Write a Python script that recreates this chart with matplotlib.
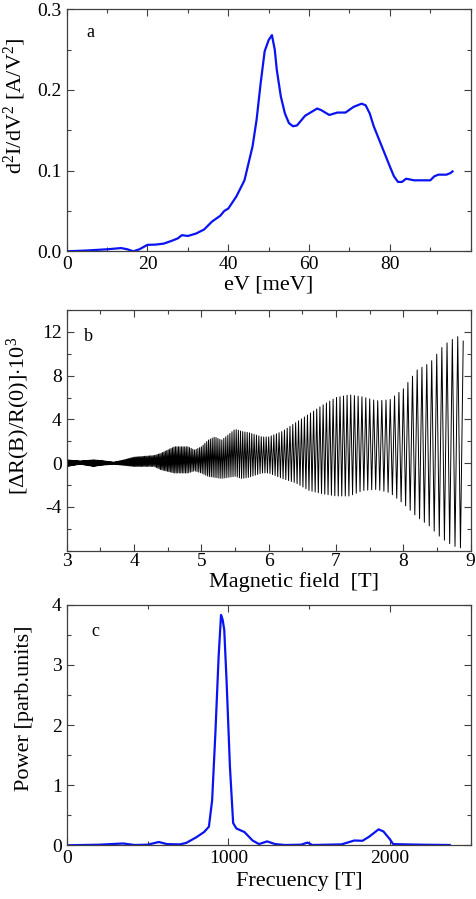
import numpy as np
import matplotlib
matplotlib.use("Agg")
import matplotlib.pyplot as plt
from matplotlib.ticker import MultipleLocator, FixedLocator, FormatStrFormatter

plt.rcParams['font.family'] = ['Liberation Serif', 'DejaVu Serif']
plt.rcParams['mathtext.fontset'] = 'custom'
plt.rcParams['mathtext.rm'] = 'Liberation Serif'
plt.rcParams['mathtext.it'] = 'Liberation Serif:italic'
plt.rcParams['axes.unicode_minus'] = False

# ---- panel a: d2I/dV2 vs eV ----
ev_mev = [0, 5, 10, 13.5, 15, 16.5, 18, 20, 22, 24, 26, 27.5, 28.5, 30, 32, 34, 36, 38, 39,
          40, 42, 44, 46, 47, 48, 49, 50, 50.8, 51.5, 52, 53, 54, 55, 56, 57, 58, 59, 60,
          62, 63, 65, 67, 69, 71, 73, 74, 75, 76, 78, 80, 81, 82, 83, 84, 85, 86, 88, 90,
          91, 92, 94, 95, 95.5]
d2i = [0.0, 0.001, 0.0025, 0.004, 0.0025, 0.0, 0.0025, 0.008, 0.0083, 0.0095, 0.013, 0.016,
       0.020, 0.019, 0.022, 0.027, 0.037, 0.044, 0.050, 0.053, 0.068, 0.088, 0.13, 0.163,
       0.208, 0.248, 0.262, 0.268, 0.25, 0.225, 0.192, 0.171, 0.159, 0.155, 0.156, 0.162,
       0.168, 0.171, 0.177, 0.175, 0.169, 0.172, 0.172, 0.179, 0.183, 0.181, 0.171, 0.155,
       0.13, 0.105, 0.093, 0.086, 0.086, 0.090, 0.089, 0.088, 0.088, 0.088, 0.093, 0.095,
       0.095, 0.097, 0.099]

# ---- panel b: oscillation envelope vs magnetic field ----
field_T = [3.0, 3.2, 3.4, 3.5, 3.7, 3.85, 4.0, 4.3, 4.4, 4.6, 4.8, 4.9, 5.0, 5.1, 5.2, 5.3,
           5.5, 5.6, 5.7, 5.9, 6.0, 6.2, 6.4, 6.6, 6.8, 7.0, 7.2, 7.4, 7.6, 7.8, 8.0, 8.2,
           8.4, 8.5, 8.6, 8.7, 8.8, 8.92]
upper_env = [0.3, 0.2, 0.3, 0.25, 0.1, 0.3, 0.55, 0.7, 0.9, 1.5, 1.5, 1.2, 1.5, 2.1, 2.4, 2.1,
             3.1, 2.9, 2.8, 2.4, 2.4, 2.9, 3.7, 4.5, 5.3, 6.0, 6.25, 6.05, 5.7, 5.8, 6.8, 8.5,
             9.2, 10.0, 10.8, 11.2, 11.6, 11.0]
lower_env = [-0.3, -0.1, -0.3, -0.2, -0.1, -0.2, -0.3, -0.3, -0.6, -0.9, -0.9, -0.7, -0.9,
             -1.2, -1.3, -1.4, -1.2, -1.4, -1.3, -0.9, -0.9, -1.4, -1.8, -2.5, -2.8, -3.0,
             -3.0, -2.5, -2.4, -2.7, -3.7, -4.9, -5.8, -6.5, -7.0, -7.4, -7.7, -7.8]
osc_freq_T = 960  # oscillation frequency

# ---- panel c: power spectrum ----
freq_T = [0, 200, 350, 420, 500, 570, 620, 700, 740, 800, 850, 880, 900, 920, 940, 955, 965,
          975, 990, 1010, 1030, 1050, 1100, 1150, 1190, 1240, 1290, 1350, 1450, 1490, 1520,
          1700, 1780, 1830, 1870, 1930, 1960, 2000, 2020, 2100, 2200, 2370]
power = [0.0, 0.01, 0.03, 0.005, 0.01, 0.055, 0.02, 0.015, 0.04, 0.13, 0.22, 0.31, 0.75,
         1.86, 3.13, 3.83, 3.75, 3.58, 2.69, 1.31, 0.37, 0.28, 0.22, 0.08, 0.02, 0.065, 0.02,
         0.005, 0.01, 0.045, 0.005, 0.015, 0.08, 0.075, 0.14, 0.265, 0.23, 0.1, 0.02, 0.015,
         0.01, 0.005]

W, H = 477, 899
fig = plt.figure(figsize=(W / 100, H / 100), dpi=100)

def add_ax(left, top, right, bottom):
    return fig.add_axes([left / W, 1 - bottom / H, (right - left) / W, (bottom - top) / H])

ax_a = add_ax(66.7, 9.3, 470.7, 251.3)
ax_b = add_ax(66.7, 310, 470.7, 550.7)
ax_c = add_ax(66.7, 604.7, 470.7, 845.3)

blue = '#0a14f0'
for ax in (ax_a, ax_b, ax_c):
    ax.tick_params(which='both', direction='in', top=True, right=True, labelsize=14,
                   color='#404040', width=0.8)
    ax.tick_params(which='major', length=5)
    ax.tick_params(which='minor', length=3)
    for s in ax.spines.values():
        s.set_color('#404040')
        s.set_linewidth(0.9)

# panel a
ax_a.plot(ev_mev, d2i, color=blue, lw=1.6)
ax_a.set_xlim(0, 100)
ax_a.set_ylim(0, 0.3)
ax_a.xaxis.set_major_locator(FixedLocator([0, 20, 40, 60, 80]))
ax_a.xaxis.set_minor_locator(MultipleLocator(10))
ax_a.yaxis.set_major_locator(MultipleLocator(0.1))
ax_a.yaxis.set_minor_locator(MultipleLocator(0.05))
ax_a.yaxis.set_major_formatter(FormatStrFormatter('%.1f'))
ax_a.set_xlabel('eV [meV]', fontsize=16, labelpad=2)
ax_a.set_ylabel(r'd$^2$I/dV$^2$ [A/V$^2$]', fontsize=16)
ax_a.yaxis.set_label_coords(-0.095, 0.6)
ax_a.text(0.058, 0.905, 'a', transform=ax_a.transAxes, fontsize=13, va='center', ha='center')

# panel b: line through successive oscillation extrema
b_lo, b_hi = field_T[0], field_T[-1]
k = np.arange(np.ceil(2 * osc_freq_T / b_hi), np.floor(2 * osc_freq_T / b_lo) + 1)
b_ext = np.sort(2 * osc_freq_T / k)
up = np.interp(b_ext, field_T, upper_env)
lo = np.interp(b_ext, field_T, lower_env)
vals = np.where(np.arange(len(b_ext)) % 2 == 0, up, lo)
ax_b.plot(b_ext, vals, color='black', lw=0.7)
ax_b.set_xlim(3, 9)
ax_b.set_ylim(-8, 14)
ax_b.tick_params(axis='x', which='both', pad=2)
ax_b.xaxis.set_major_locator(MultipleLocator(1))
ax_b.xaxis.set_minor_locator(MultipleLocator(0.5))
ax_b.yaxis.set_major_locator(FixedLocator([-4, 0, 4, 8, 12]))
ax_b.yaxis.set_minor_locator(MultipleLocator(2))
ax_b.set_xlabel('Magnetic field  [T]', fontsize=16)
ax_b.xaxis.set_label_coords(0.563, -0.088)
ax_b.set_ylabel(r'[$\Delta$R(B)/R(0)]$\cdot$10$^3$', fontsize=16)
ax_b.yaxis.set_label_coords(-0.085, 0.56)
ax_b.text(0.053, 0.89, 'b', transform=ax_b.transAxes, fontsize=13, va='center', ha='center')

# panel c
ax_c.plot(freq_T, power, color=blue, lw=1.6)
ax_c.set_xlim(0, 2500)
ax_c.set_ylim(0, 4)
ax_c.xaxis.set_major_locator(FixedLocator([0, 1000, 2000]))
ax_c.xaxis.set_minor_locator(MultipleLocator(500))
ax_c.yaxis.set_major_locator(MultipleLocator(1))
ax_c.yaxis.set_minor_locator(MultipleLocator(0.5))
ax_c.set_xlabel('Frecuency [T]', fontsize=16)
ax_c.xaxis.set_label_coords(0.575, -0.112)
ax_c.set_ylabel('Power [parb.units]', fontsize=16)
ax_c.yaxis.set_label_coords(-0.08, 0.57)
ax_c.text(0.07, 0.887, 'c', transform=ax_c.transAxes, fontsize=13, va='center', ha='center')

fig.savefig('out.png', dpi=100)
